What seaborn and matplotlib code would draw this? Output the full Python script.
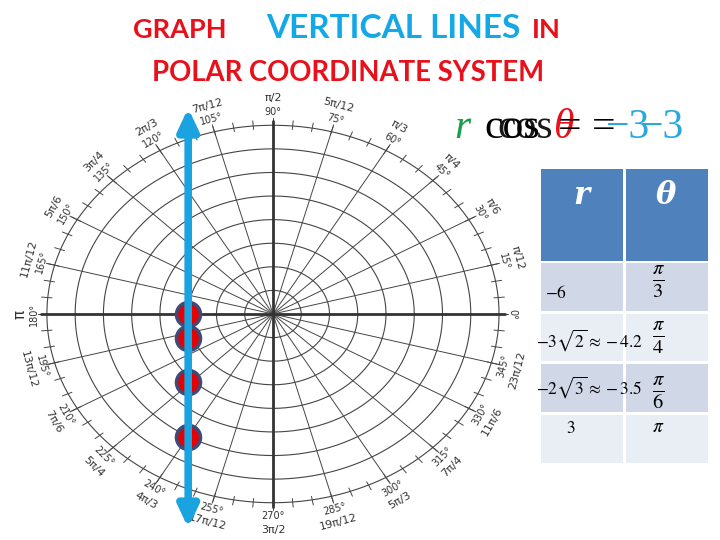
import numpy as np
import pandas as pd
import seaborn as sns
import matplotlib.pyplot as plt
from matplotlib.colors import ListedColormap

# 極座標グリッドの設定
n_rings = 8
spoke_deg = np.arange(0, 360, 15)
tick_deg = np.arange(0, 360, 5)
rad_labels = ["", "π/12", "π/6", "π/4", "π/3", "5π/12", "π/2", "7π/12",
              "2π/3", "3π/4", "5π/6", "11π/12", "π", "13π/12", "7π/6", "5π/4",
              "4π/3", "17π/12", "3π/2", "19π/12", "5π/3", "7π/4", "11π/6", "23π/12"]

# 直線 r cos θ = -3 上の点
dot_x = [-3, -3, -3, -3]
dot_y = [0.0, -1.0, -2.9, -5.2]
line_x = -3
line_y = [-9.07, 8.73]

# 表のデータ
table_r = [r"$-6$", r"$-3\sqrt{2} \approx -4.2$", r"$-2\sqrt{3} \approx -3.5$", r"$3$"]
table_theta = [r"$\frac{\pi}{3}$", r"$\frac{\pi}{4}$", r"$\frac{\pi}{6}$", r"$\pi$"]

W, H = 720, 540
sns.set_style("white")
plt.rcParams["font.family"] = ["DejaVu Sans"]
plt.rcParams["mathtext.fontset"] = "stix"

fig = plt.figure(figsize=(7.2, 5.4), dpi=100)
ax = fig.add_axes([0, 0, 1, 1])
ax.set_xlim(-9.66, 15.82)
ax.set_ylim(-9.58, 13.31)
ax.axis("off")

gc = "#454545"
t = np.linspace(0, 2 * np.pi, 400)
for k in range(1, n_rings + 1):
    ax.plot(k * np.cos(t), k * np.sin(t), color=gc, lw=0.8, zorder=1)
for a in np.radians(spoke_deg):
    ax.plot([0, 8.3 * np.cos(a)], [0, 8.3 * np.sin(a)], color=gc, lw=0.7, zorder=1)
for a in np.radians(tick_deg):
    ax.plot([7.85 * np.cos(a), 8.22 * np.cos(a)], [7.85 * np.sin(a), 8.22 * np.sin(a)],
            color=gc, lw=0.7, zorder=1)
ax.plot([-8.2, 8.2], [0, 0], color="#333333", lw=2, zorder=2)
ax.plot([0, 0], [-8.2, 8.2], color="#333333", lw=2, zorder=2)

# 角度ラベル
px_x, px_y = 28.25, 23.6
for a, rl in zip(spoke_deg, rad_labels):
    rot = a - 90 if a <= 180 else a - 270
    c, s = np.cos(np.radians(a)), np.sin(np.radians(a))
    ax.text((8 + 13 / px_x) * c, (8 + 13 / px_y) * s, f"{a}°", rotation=rot,
            ha="center", va="center", fontsize=7, color="#333333", rotation_mode="anchor")
    ax.text((8 + 27 / px_x) * c, (8 + 27 / px_y) * s, rl, rotation=rot,
            ha="center", va="center", fontsize=11 if rl == "π" else 8, color="#333333",
            rotation_mode="anchor")

# 点と直線
sns.scatterplot(x=dot_x, y=dot_y, s=300, color="#e60000", edgecolor="#3d4a7a",
                linewidth=2.5, ax=ax, zorder=3, legend=False)
ax.annotate("", xy=(line_x, line_y[1]), xytext=(line_x, line_y[0]),
            arrowprops=dict(arrowstyle="<|-|>,head_width=0.15,head_length=0.32",
                            color="#1aa3e0", lw=5.5, mutation_scale=40,
                            shrinkA=0, shrinkB=0), zorder=4)


def fx(x, y):
    return x / W, 1 - y / H


# タイトル
red = "#e8101a"
blue = "#14a8e6"
fig.text(*fx(133, 38), "GRAPH", color=red, fontsize=19.5, fontweight="bold", family="Lato", va="baseline")
fig.text(*fx(266, 38), "VERTICAL LINES", color=blue, fontsize=24, fontweight="bold", family="Lato", va="baseline")
fig.text(*fx(532, 38), "IN", color=red, fontsize=19.5, fontweight="bold", family="Lato", va="baseline")
fig.text(*fx(152, 81), "POLAR COORDINATE SYSTEM", color=red, fontsize=19.8, fontweight="bold", family="Lato", va="baseline")

# 式
ef = "Liberation Serif"
fig.text(*fx(454, 138), "r", color="#1a9f4c", fontsize=30, style="italic", family=ef, va="baseline")
fig.text(*fx(484, 138), "cos", color="black", fontsize=30, family=ef, va="baseline")
fig.text(*fx(497, 138), "cos", color="black", fontsize=30, family=ef, va="baseline", alpha=0.9)
fig.text(*fx(554, 138), "θ", color="#e8101a", fontsize=30, style="italic", family=ef, va="baseline")
fig.text(*fx(558, 138), "=", color="black", fontsize=30, family=ef, va="baseline")
fig.text(*fx(592, 138), "=", color="black", fontsize=30, family=ef, va="baseline")
fig.text(*fx(606, 138), "−3", color="#29a8e0", fontsize=30, family=ef, va="baseline")
fig.text(*fx(640, 138), "−3", color="#29a8e0", fontsize=30, family=ef, va="baseline")

# 表 (ヘッダー)
hx0, hx1, hy0, hy1 = 538.5, 708.5, 166.5, 261.5
hax = fig.add_axes([hx0 / W, 1 - hy1 / H, (hx1 - hx0) / W, (hy1 - hy0) / H])
sns.heatmap(pd.DataFrame([[0, 0]]), cmap=ListedColormap(["#4f81bd"]), cbar=False,
            linewidths=2, linecolor="white", ax=hax, xticklabels=False, yticklabels=False)
hax.text(0.5, 0.31, "r", color="white", fontsize=22, fontweight="bold", style="italic",
         family="DejaVu Serif", ha="center", va="center")
hax.text(1.5, 0.31, "θ", color="white", fontsize=22, fontweight="bold", style="italic",
         family="DejaVu Serif", ha="center", va="center")

# 表 (本体)
bx0, bx1, by0, by1 = 538.5, 708.5, 261.5, 463.5
bax = fig.add_axes([bx0 / W, 1 - by1 / H, (bx1 - bx0) / W, (by1 - by0) / H])
body = pd.DataFrame([[0, 0], [1, 1], [0, 0], [1, 1]])
sns.heatmap(body, cmap=ListedColormap(["#d0d8e8", "#e9edf4"]), cbar=False,
            linewidths=2, linecolor="white", ax=bax, xticklabels=False, yticklabels=False)

r_pos = [(545, 293), (536, 340), (536, 387), (566, 428)]
th_pos = [(658, 282), (658, 338), (658, 393), (658, 427)]
for lab, (x, y) in zip(table_r, r_pos):
    fig.text(*fx(x, y), lab, fontsize=12.5, ha="left", va="center", color="black")
for lab, (x, y) in zip(table_theta, th_pos):
    fig.text(*fx(x, y), lab, fontsize=21 if "frac" in lab else 14, ha="center", va="center", color="black")

fig.savefig("out.png", dpi=100)
